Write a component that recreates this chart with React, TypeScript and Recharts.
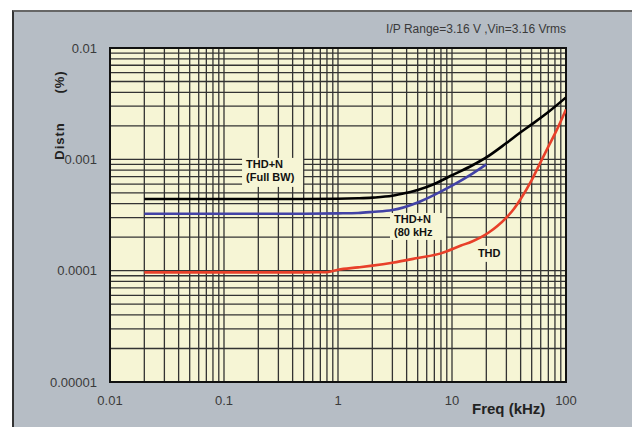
import {
  LineChart,
  Line,
  XAxis,
  YAxis,
  CartesianGrid,
  ReferenceArea,
  ReferenceDot,
} from "recharts";

// axis decades and tick labels
const xDecades = [0.01, 0.1, 1, 10, 100];
const xDecadeLabels = ["0.01", "0.1", "1", "10", "100"];
const yDecades = [0.00001, 0.0001, 0.001, 0.01];
const yDecadeLabels = ["0.00001", "0.0001", "0.001", "0.01"];
const gridSteps = [1, 2, 3, 4, 5, 6, 7, 8, 9];

// THD+N (Full BW)
const thdnFullFreq = [0.02, 0.5, 1, 1.5, 2, 3, 4, 5, 7, 10, 15, 20, 30, 40, 50, 70, 100];
const thdnFullVal = [
  0.00044, 0.00044, 0.000442, 0.000447, 0.000453, 0.00047, 0.0005, 0.00053, 0.0006,
  0.00072, 0.00088, 0.00104, 0.0014, 0.00175, 0.00206, 0.00266, 0.0036,
];

// THD+N (80 kHz)
const thdn80Freq = [0.02, 0.5, 1, 1.5, 2, 3, 5, 7, 10, 15, 20];
const thdn80Val = [
  0.000325, 0.000325, 0.000327, 0.00033, 0.000337, 0.00035, 0.00041, 0.00048, 0.00058,
  0.00074, 0.0009,
];

// THD
const thdFreq = [
  0.02, 0.5, 0.8, 1, 1.5, 2, 3, 5, 8, 12, 15, 18, 21, 25, 30, 35, 40, 50, 60, 70, 80, 90, 100,
];
const thdVal = [
  0.0000966, 0.0000966, 0.0000968, 0.000102, 0.000107, 0.000111, 0.000118, 0.00013,
  0.000143, 0.000168, 0.000183, 0.0002, 0.00022, 0.000252, 0.0003, 0.00036, 0.00044,
  0.00065, 0.00095, 0.0013, 0.0017, 0.0022, 0.0028,
];

const annotations = [
  { f: 0.144, v: 0.00103, lines: ["THD+N", "(Full BW)"], w: 61, h: 29 },
  { f: 2.86, v: 0.00033, lines: ["THD+N", "(80 kHz"], w: 56, h: 27 },
  { f: 16.2, v: 0.000167, lines: ["THD"], w: 27, h: 16 },
];

const PLOT_BG = "#f6f5d5";
const FRAME_BG = "#b6bdc5";
const GRID = "#333";
const TEXT = "#3a3a3a";
const FONT = "'Liberation Sans', Arial, sans-serif";

const toPoints = (fs: number[], vs: number[]) => fs.map((f, i) => ({ f, v: vs[i] }));

function logTicks(decades: number[]) {
  const out: number[] = [];
  decades.forEach((d, i) => {
    if (i === decades.length - 1) {
      out.push(d);
      return;
    }
    gridSteps.forEach((m) => out.push(d * m));
  });
  return out;
}

const decadeLabel = (decades: number[], labels: string[]) => (v: number) => {
  const i = decades.findIndex((d) => Math.abs(v / d - 1) < 1e-6);
  return i >= 0 ? labels[i] : "";
};

function AnnotBox({ viewBox, lines, w, h }: any) {
  const x = viewBox?.x ?? 0;
  const y = viewBox?.y ?? 0;
  return (
    <g>
      <rect x={x} y={y} width={w} height={h} fill={PLOT_BG} />
      {lines.map((t: string, i: number) => (
        <text
          key={t}
          x={x + (lines.length > 1 ? 4 : 2)}
          y={y + (lines.length > 1 ? 10 + i * 13 : 11)}
          fontFamily={FONT}
          fontWeight="bold"
          fontSize={11}
          fill="#111"
        >
          {t}
        </text>
      ))}
    </g>
  );
}

export default function App() {
  const xTicks = logTicks(xDecades);
  const yTicks = logTicks(yDecades);
  const tickStyle = { fill: TEXT, fontSize: 13, fontFamily: FONT };

  return (
    <div
      style={{
        position: "absolute",
        left: 0,
        top: 0,
        width: 636,
        height: 427,
        background: "#fff",
        fontFamily: FONT,
        overflow: "hidden",
      }}
    >
      <div
        style={{
          position: "absolute",
          left: 12,
          top: 10,
          width: 620,
          height: 417,
          background: FRAME_BG,
          borderLeft: "2px solid #333",
          borderTop: "2px solid #666",
          boxSizing: "border-box",
        }}
      />
      <div style={{ position: "absolute", left: 0, top: 0 }}>
        <LineChart width={636} height={427} margin={{ top: 48, right: 70, bottom: 15, left: 50 }}>
          <CartesianGrid fill={PLOT_BG} fillOpacity={1} stroke={GRID} strokeWidth={1.3} />
          <XAxis
            type="number"
            dataKey="f"
            scale="log"
            domain={[0.01, 100]}
            allowDataOverflow
            ticks={xTicks}
            interval={0}
            tickFormatter={decadeLabel(xDecades, xDecadeLabels)}
            axisLine={false}
            tickLine={false}
            tickSize={0}
            tickMargin={14}
            height={30}
            tick={tickStyle}
          />
          <YAxis
            type="number"
            scale="log"
            domain={[0.00001, 0.01]}
            allowDataOverflow
            ticks={yTicks}
            interval={0}
            tickFormatter={decadeLabel(yDecades, yDecadeLabels)}
            axisLine={false}
            tickLine={false}
            tickSize={0}
            tickMargin={13}
            width={60}
            tick={tickStyle}
          />
          <ReferenceArea
            x1={0.01}
            x2={100}
            y1={0.00001}
            y2={0.01}
            fill="none"
            stroke="#111"
            strokeWidth={2}
          />
          <Line
            data={toPoints(thdnFullFreq, thdnFullVal)}
            dataKey="v"
            type="monotone"
            stroke="#000"
            strokeWidth={2.6}
            dot={false}
            isAnimationActive={false}
          />
          <Line
            data={toPoints(thdn80Freq, thdn80Val)}
            dataKey="v"
            type="monotone"
            stroke="#4242a6"
            strokeWidth={2.6}
            dot={false}
            isAnimationActive={false}
          />
          <Line
            data={toPoints(thdFreq, thdVal)}
            dataKey="v"
            type="monotone"
            stroke="#e8402a"
            strokeWidth={2.6}
            dot={false}
            isAnimationActive={false}
          />
          {annotations.map((a) => (
            <ReferenceDot
              key={a.lines.join()}
              x={a.f}
              y={a.v}
              r={0}
              fill="none"
              stroke="none"
              label={(p: any) => <AnnotBox viewBox={p.viewBox} lines={a.lines} w={a.w} h={a.h} />}
            />
          ))}
        </LineChart>
      </div>
      <div
        style={{
          position: "absolute",
          right: 70,
          top: 22,
          fontSize: 12,
          lineHeight: "14px",
          color: TEXT,
          whiteSpace: "nowrap",
        }}
      >
        I/P Range=3.16 V ,Vin=3.16 Vrms
      </div>
      <div
        style={{
          position: "absolute",
          left: 472,
          top: 401,
          fontSize: 15,
          fontWeight: "bold",
          lineHeight: "16px",
          color: "#222",
          whiteSpace: "nowrap",
        }}
      >
        Freq (kHz)
      </div>
      {[
        { t: "(%)", cy: 82 },
        { t: "Distn", cy: 141 },
      ].map((l) => (
        <div
          key={l.t}
          style={{
            position: "absolute",
            left: 30,
            top: l.cy - 8,
            width: 60,
            height: 16,
            lineHeight: "16px",
            textAlign: "center",
            transform: "rotate(-90deg)",
            fontSize: 13,
            fontWeight: "bold",
            letterSpacing: 1,
            color: "#222",
          }}
        >
          {l.t}
        </div>
      ))}
    </div>
  );
}
